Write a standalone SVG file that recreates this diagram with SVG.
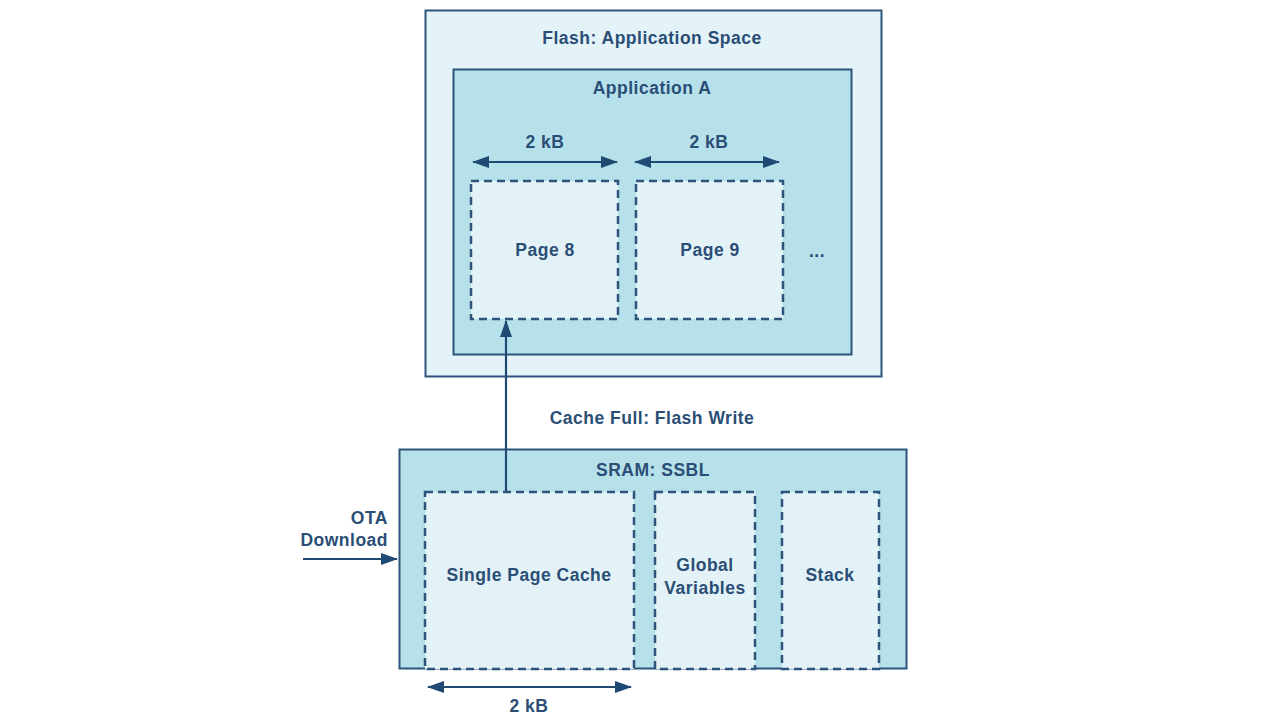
<svg xmlns="http://www.w3.org/2000/svg" width="1280" height="721" viewBox="0 0 1280 721">
<style>
text{font-family:"Liberation Sans",Arial,sans-serif;font-weight:bold;font-size:17.5px;letter-spacing:0.5px;fill:#2a4e76;text-anchor:middle}
.solid{stroke:#2d557c;stroke-width:2}
.dash{stroke:#2d557c;stroke-width:2.5;stroke-dasharray:8 5;fill:#e3f2f7}
.conn{stroke:#1f4a74;stroke-width:2.2;fill:none}
</style>
<defs>
<marker id="ah" viewBox="0 0 17 12" refX="16" refY="6" markerWidth="17" markerHeight="12" markerUnits="userSpaceOnUse" orient="auto-start-reverse">
<path d="M0,0 L17,6 L0,12 Z" fill="#1f4a74"/>
</marker>
</defs>
<rect width="1280" height="721" fill="#ffffff"/>
<g id="flash">
<rect x="425.5" y="10.5" width="456" height="366" fill="#e4f3f8" class="solid"/>
<text x="652" y="44">Flash: Application Space</text>
</g>
<g id="appA">
<rect x="453.5" y="69.5" width="398" height="285" fill="#b6e1eb" class="solid"/>
<text x="652" y="94">Application A</text>
</g>
<g id="page8">
<rect x="471" y="181" width="147" height="138" class="dash"/>
<text x="545" y="256">Page 8</text>
</g>
<g id="page9">
<rect x="636" y="181" width="147" height="138" class="dash"/>
<text x="710" y="256">Page 9</text>
</g>
<g id="ellipsis"><text x="817" y="257">...</text></g>
<g id="sram">
<rect x="399.5" y="449.5" width="507" height="219" fill="#b6e1eb" class="solid"/>
<text x="653" y="476">SRAM: SSBL</text>
</g>
<g id="cache">
<rect x="425" y="492" width="209" height="177" class="dash"/>
<text x="529" y="581">Single Page Cache</text>
</g>
<g id="globals">
<rect x="655" y="492" width="100" height="177" class="dash"/>
<text x="705" y="571">Global</text>
<text x="705" y="594">Variables</text>
</g>
<g id="stack">
<rect x="782" y="492" width="97" height="177" class="dash"/>
<text x="830" y="581">Stack</text>
</g>
<g id="labels">
<text x="545" y="148">2 kB</text>
<text x="709" y="148">2 kB</text>
<text x="652" y="424">Cache Full: Flash Write</text>
<text x="388" y="524" style="text-anchor:end">OTA</text>
<text x="388" y="546" style="text-anchor:end">Download</text>
<text x="529" y="712">2 kB</text>
</g>
<g id="connectors">
<line x1="473" y1="162" x2="617" y2="162" class="conn" marker-start="url(#ah)" marker-end="url(#ah)"/>
<line x1="635" y1="162" x2="779" y2="162" class="conn" marker-start="url(#ah)" marker-end="url(#ah)"/>
<line x1="506" y1="491" x2="506" y2="321" class="conn" marker-end="url(#ah)"/>
<line x1="303" y1="559" x2="397" y2="559" class="conn" marker-end="url(#ah)"/>
<line x1="428" y1="687" x2="631" y2="687" class="conn" marker-start="url(#ah)" marker-end="url(#ah)"/>
</g>
</svg>
